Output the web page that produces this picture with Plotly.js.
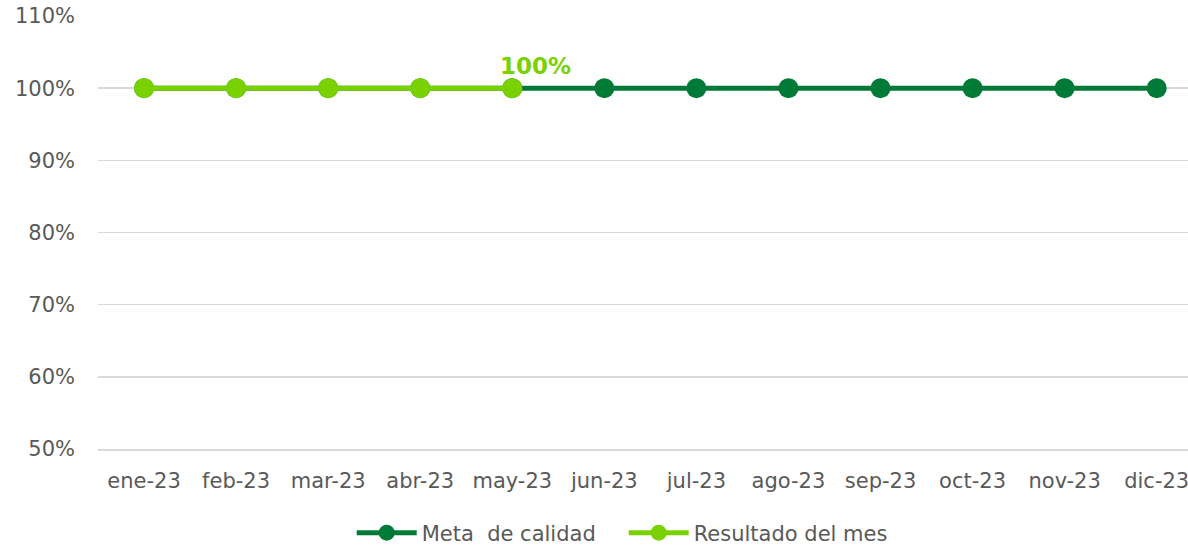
<!DOCTYPE html>
<html>
<head>
<meta charset="utf-8">
<script src="https://cdn.plot.ly/plotly-3.0.1.min.js"></script>
<style>html,body{margin:0;padding:0;background:#fff;}#chart{width:1188px;height:547px;}</style>
</head>
<body>
<div id="chart"></div>
<script>
const months = ["ene-23","feb-23","mar-23","abr-23","may-23","jun-23","jul-23","ago-23","sep-23","oct-23","nov-23","dic-23"];
const metaCalidad = [100,100,100,100,100,100,100,100,100,100,100,100];
const resultadoMes = [100,100,100,100,100];
const resultadoLabelIndex = 4;
const resultadoLabelText = "100%";
const yTicks = [50,60,70,80,90,100,110];
const yTickText = ["50%","60%","70%","80%","90%","100%","110%"];

const FONT = "DejaVu Sans, Verdana, sans-serif";
const DARK = "#007a37";
const LIGHT = "#79d200";
const GREY = "#595959";

const traces = [
  {
    x: months, y: metaCalidad, name: "Meta  de calidad", type: "scatter", mode: "lines+markers",
    line: {color: DARK, width: 5}, marker: {color: DARK, size: 20}
  },
  {
    x: months.slice(0, resultadoMes.length), y: resultadoMes, name: "Resultado del mes", type: "scatter",
    mode: "lines+markers",
    line: {color: LIGHT, width: 5}, marker: {color: LIGHT, size: 20}
  }
];

const layout = {
  width: 1188, height: 547,
  margin: {l: 98, r: 0, t: 16, b: 98},
  paper_bgcolor: "#fff", plot_bgcolor: "#fff",
  font: {family: FONT, size: 21, color: GREY},
  showlegend: true,
  legend: {orientation: "h", x: 0.525, xanchor: "center", xref: "container",
           y: 14/547, yanchor: "middle", yref: "container",
           entrywidth: 197, entrywidthmode: "pixels",
           font: {family: FONT, size: 21, color: GREY}, itemwidth: 60},
  annotations: [{
    x: months[resultadoLabelIndex], y: resultadoMes[resultadoLabelIndex], xref: "x", yref: "y",
    text: resultadoLabelText, showarrow: false, xshift: 23, yshift: 22,
    font: {family: FONT, size: 23, color: LIGHT, weight: "bold"}
  }],
  xaxis: {type: "category", range: [-0.5, 11.34], showgrid: false, zeroline: false,
          showline: true, linecolor: "#d9d9d9", linewidth: 1.5, ticks: "", ticklabelstandoff: 12,
          tickfont: {family: FONT, size: 21, color: GREY}},
  yaxis: {range: [50, 110], tickvals: yTicks, ticktext: yTickText, showgrid: true,
          gridcolor: "#d9d9d9", gridwidth: 1.5, zeroline: false, showline: false, ticks: "",
          ticklabelstandoff: 22, tickfont: {family: FONT, size: 21, color: GREY}}
};

Plotly.newPlot("chart", traces, layout, {displayModeBar: false, staticPlot: true});
</script>
</body>
</html>
